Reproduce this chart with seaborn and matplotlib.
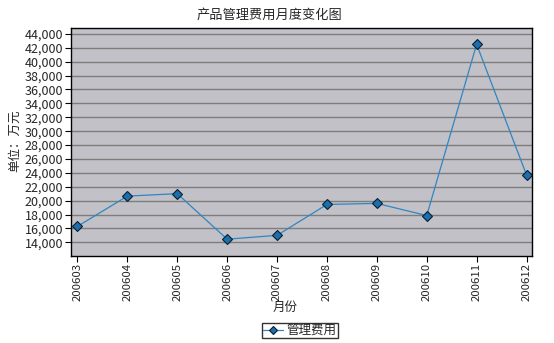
import matplotlib
matplotlib.use("Agg")
import matplotlib.pyplot as plt
import seaborn as sns
import pandas as pd
from matplotlib.ticker import FuncFormatter

months = ["200603", "200604", "200605", "200606", "200607",
          "200608", "200609", "200610", "200611", "200612"]
expenses = [16300, 20650, 21000, 14450, 15000, 19450, 19600, 17850, 42500, 23700]
series_name = "管理费用"

df = pd.DataFrame({"月份": months, series_name: expenses})
df["pos"] = range(len(months))

sns.set_style("white")
plt.rcParams["font.family"] = ["Noto Sans CJK SC", "DejaVu Sans"]

fig = plt.figure(figsize=(5.54, 3.43), dpi=100)
ax = fig.add_axes([71 / 554, 1 - 255.5 / 343, (532.5 - 71) / 554, (255.5 - 27.5) / 343])
ax.set_facecolor("#c2c1c7")

sns.lineplot(data=df, x="pos", y=series_name, ax=ax, color="#2f86c2",
             linewidth=0.9, marker="D", markersize=5.5, markerfacecolor="#1c6fae",
             markeredgecolor="#0a1f30", markeredgewidth=0.8, label=series_name,
             legend=False)

ax.set_xlim(-0.13, len(months) - 1 + 0.12)
ax.set_ylim(12100, 44920)
ax.set_yticks(range(14000, 44001, 2000))
ax.yaxis.set_major_formatter(FuncFormatter(lambda v, p: f"{int(v):,}"))
ax.set_xticks(df["pos"])
ax.set_xticklabels(months, rotation=90)
ax.grid(axis="y", color="#7d7d7d", linewidth=1.0)
ax.set_axisbelow(True)

for s in ax.spines.values():
    s.set_color("black")
    s.set_linewidth(1.0)

ax.tick_params(axis="both", which="major", direction="out", length=4, width=0.8,
               color="black", pad=1.5, left=True, bottom=True)
ax.tick_params(axis="y", labelsize=9)
ax.tick_params(axis="x", labelsize=8.2)
ax.set_xlabel("")
ax.set_ylabel("")

fig.text(269 / 554, 1 - 15 / 343, "产品管理费用月度变化图", ha="center", va="center",
         fontsize=9.5)
fig.text(15 / 554, 1 - 141 / 343, "单位：万元", ha="center", va="center",
         rotation=90, fontsize=9)
fig.text(285 / 554, 1 - 307 / 343, "月份", ha="center", va="center", fontsize=9)

handles, labels = ax.get_legend_handles_labels()
leg = fig.legend(handles, labels, loc="center", bbox_to_anchor=(300 / 554, 1 - 330.5 / 343),
                 frameon=True, fancybox=False, edgecolor="black", fontsize=9,
                 handlelength=1.6, handletextpad=0.3, borderpad=0.1,
                 borderaxespad=0, markerscale=0.7)
leg.get_frame().set_linewidth(1.0)

fig.savefig("out.png", dpi=100, facecolor="white")
